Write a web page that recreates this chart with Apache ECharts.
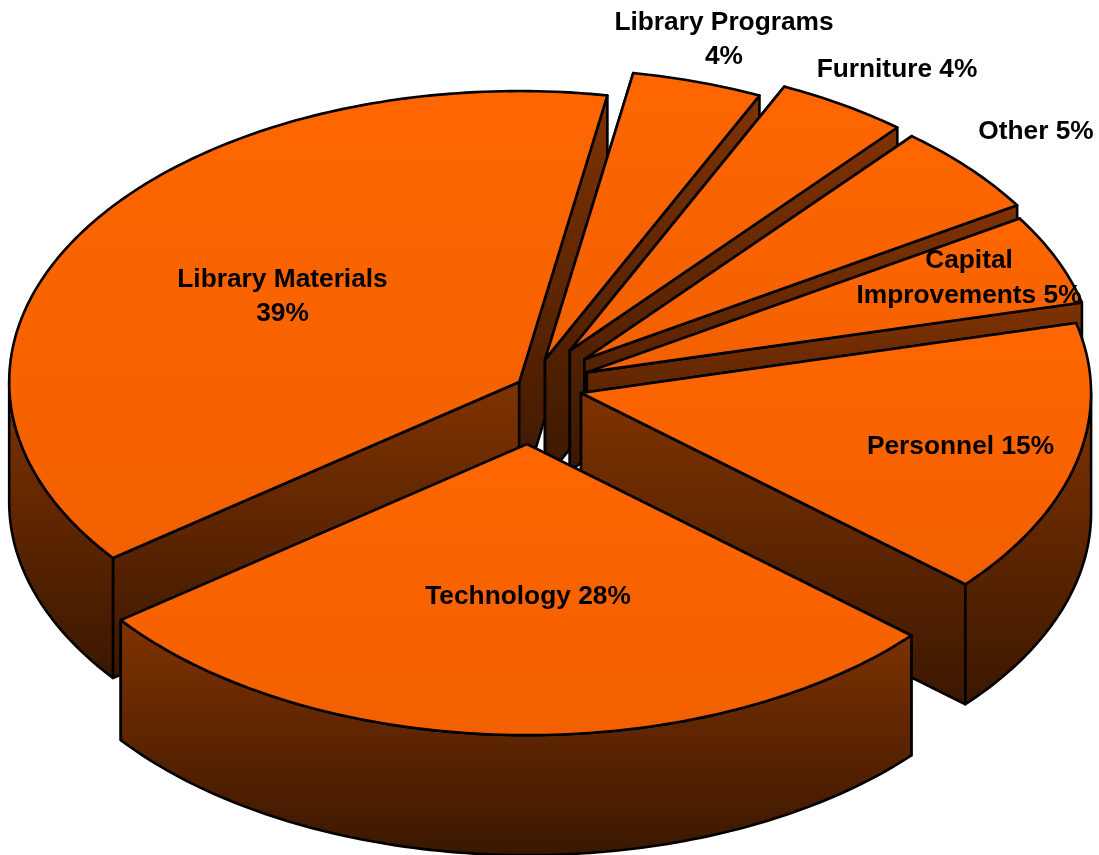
<!DOCTYPE html>
<html>
<head>
<meta charset="utf-8">
<title>Budget pie</title>
<script src="https://cdn.jsdelivr.net/npm/echarts@6/dist/echarts.min.js"></script>
<style>
html,body{margin:0;padding:0;background:#fff;}
#chart{width:1099px;height:855px;}
</style>
</head>
<body>
<div id="chart"></div>
<script>
// slices in drawing order, back to front, going clockwise round the pie
var sliceNames = ['Library Materials','Library Programs','Furniture','Other','Capital Improvements','Personnel','Technology'];
// share of the pie
var sliceShares = [38.1,4.14,4.19,5.03,5.01,15.28,28.25];
// what the labels print
var sliceLabels = ['Library Materials\n39%','Library Programs\n4%','Furniture 4%','Other 5%','Capital\nImprovements 5%','Personnel 15%','Technology 28%'];

// pie layout
var CX = 530.5, CY = 386, RX = 510, RY = 291, DEPTH = 120;
var START_ANGLE = 217.2;
var EXPLODE = [0.026,0.095,0.144,0.14,0.12,0.102,0.2];
var LABEL_AT = [[282.5,296.5],[724,39.5],[897,69.5],[1036,131.5],[969,278],[960.5,446.5],[528,596.5]];
var LINE_HEIGHT = 34.5;

var total = sliceShares.reduce(function(a,b){return a+b;},0);
var cumulative = [], run = 0;
sliceShares.forEach(function(v){
    cumulative.push(run);
    run += v;
});

function toAngle(v){
    return echarts.number.linearMap(v,[0,total],[START_ANGLE,START_ANGLE-360]);
}
function ptOf(ox,oy,deg,dy){
    var t = deg*Math.PI/180;
    return [ox+RX*Math.cos(t), oy-RY*Math.sin(t)+(dy||0)];
}
function arcPts(ox,oy,a0,a1,dy){
    var n = Math.max(2,Math.ceil(Math.abs(a1-a0)));
    var pts = [];
    for(var i=0;i<=n;i++){
        pts.push(ptOf(ox,oy,a0+(a1-a0)*i/n,dy));
    }
    return pts;
}
function wallFill(){
    return new echarts.graphic.LinearGradient(0,0,0,1,[
        {offset:0,color:'#803300'},
        {offset:1,color:'#3a1700'}
    ]);
}
function topFill(){
    return new echarts.graphic.LinearGradient(0,0,0,1,[
        {offset:0,color:'#ff6600'},
        {offset:1,color:'#f26000'}
    ]);
}
function poly(points,fill){
    return {
        type:'polygon',
        shape:{points:points},
        style:{fill:fill,stroke:'#000',lineWidth:2.6,lineJoin:'round'}
    };
}

function renderSlice(params,api){
    var i = params.dataIndex;
    var hi = toAngle(api.value(1));
    var lo = toAngle(api.value(1)+api.value(0));
    var mid = (hi+lo)/2*Math.PI/180;
    var ox = CX+EXPLODE[i]*RX*Math.cos(mid);
    var oy = CY-EXPLODE[i]*RY*Math.sin(mid);
    var apex = [ox,oy];
    var apexLow = [ox,oy+DEPTH];
    var kids = [];
    [hi,lo].forEach(function(a){
        kids.push(poly([apex,ptOf(ox,oy,a,0),ptOf(ox,oy,a,DEPTH),apexLow],wallFill()));
    });
    // rim wall only where it faces the viewer, 180..360 deg
    var h = hi, l = lo;
    while(l<0){ h += 360; l += 360; }
    var a = Math.min(h,360), b = Math.max(l,180);
    if(a>b){
        kids.push(poly(arcPts(ox,oy,a,b,0).concat(arcPts(ox,oy,b,a,DEPTH)),wallFill()));
    }
    kids.push(poly([apex].concat(arcPts(ox,oy,hi,lo,0)),topFill()));

    var lines = sliceLabels[i].split('\n'), at = LABEL_AT[i];
    lines.forEach(function(txt,k){
        kids.push({
            type:'text',
            z2:100,
            style:{
                x:at[0],
                y:at[1]+(k-(lines.length-1)/2)*LINE_HEIGHT,
                text:txt,
                align:'center',
                verticalAlign:'middle',
                fill:'#000',
                font:'bold 26.3px "Liberation Sans", Arial, sans-serif'
            }
        });
    });
    return {type:'group',children:kids};
}

var chart = echarts.init(document.getElementById('chart'));
chart.setOption({
    animation:false,
    backgroundColor:'#fff',
    series:[{
        type:'custom',
        coordinateSystem:'none',
        renderItem:renderSlice,
        dimensions:['share','before'],
        data:sliceShares.map(function(v,i){
            return {name:sliceNames[i],value:[v,cumulative[i]]};
        })
    }]
});
</script>
</body>
</html>
